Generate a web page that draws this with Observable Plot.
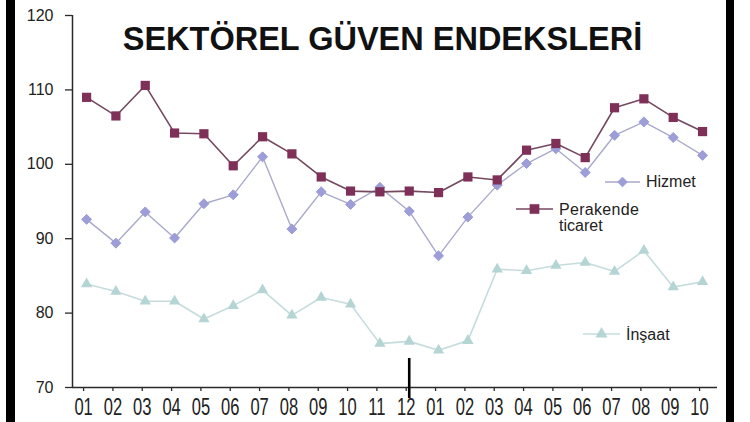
<!DOCTYPE html>
<html><head><meta charset="utf-8">
<script src="https://cdn.jsdelivr.net/npm/d3@7"></script>
<script src="https://cdn.jsdelivr.net/npm/@observablehq/plot@0.6"></script>
<style>
body{margin:0;background:#fff;}
#wrap{position:relative;width:750px;height:422px;overflow:hidden;background:#fff;font-family:"Liberation Sans",Arial,sans-serif;}
#wrap > svg{position:absolute;left:0;top:0;}
.bar{position:absolute;top:0;height:422px;background:#000;}
</style></head><body><div id="wrap"></div>
<script>
// ---- data ----
const months = ["01","02","03","04","05","06","07","08","09","10","11","12","01","02","03","04","05","06","07","08","09","10"];
const perakende = [109.0,106.5,110.6,104.2,104.1,99.8,103.7,101.4,98.3,96.4,96.3,96.4,96.2,98.3,97.9,101.9,102.8,100.9,107.6,108.8,106.3,104.4];
const hizmet = [92.6,89.4,93.6,90.1,94.7,95.9,101.0,91.3,96.3,94.6,96.9,93.7,87.7,92.9,97.2,100.1,102.1,98.9,103.9,105.7,103.6,101.2];
const insaat = [83.9,82.9,81.6,81.6,79.2,81.0,83.1,79.7,82.1,81.2,75.9,76.2,75.0,76.3,85.9,85.7,86.4,86.8,85.6,88.4,83.5,84.2];
const yTicks = [70,80,90,100,110,120];
const titleText = "SEKTÖREL GÜVEN ENDEKSLERİ";
const seriesNames = ["Hizmet","Perakende","ticaret","İnşaat"];
const yearBreakIndex = 11;

const colors = {
  perakendeLine:"#74485f", perakendeDot:"#7e3059",
  hizmetLine:"#a9a9cc", hizmetDot:"#9d9dd8",
  insaatLine:"#c6dcdc", insaatDot:"#b5d5d5"
};
const toRows = vals => vals.map((v,i)=>({i, v}));
const P = toRows(perakende), H = toRows(hizmet), I = toRows(insaat);
const xDomain = [-0.48, months.length - 0.49];

const plot = Plot.plot({
  width:750, height:422,
  marginLeft:72, marginRight:33, marginTop:15, marginBottom:35,
  style:{fontFamily:"'Liberation Sans', Arial, sans-serif", fontSize:"16px", color:"#222", background:"transparent", overflow:"visible"},
  x:{type:"linear", domain:xDomain},
  y:{domain:[70,120]},
  marks:[
    Plot.ruleY([yTicks[0]], {stroke:"#2a2a2a", strokeWidth:1.5}),
    Plot.ruleX([xDomain[0]], {stroke:"#2a2a2a", strokeWidth:1.5}),
    Plot.axisY({ticks:yTicks, tickSize:7, tickPadding:12, stroke:"#2a2a2a", strokeWidth:1.3, fontSize:16, label:null}),
    Plot.axisX({ticks:d3.range(months.length), tickFormat:i=>months[i], tickSize:4, tickPadding:7, dx:-3, stroke:"#2a2a2a", strokeWidth:1.3, fontSize:23, label:null}),
    Plot.line(I, {x:"i", y:"v", stroke:colors.insaatLine, strokeWidth:1.6}),
    Plot.dot(I, {x:"i", y:"v", symbol:"triangle", r:4.2, fill:colors.insaatDot, stroke:"none"}),
    Plot.line(H, {x:"i", y:"v", stroke:colors.hizmetLine, strokeWidth:1.4}),
    Plot.dot(H, {x:"i", y:"v", symbol:"diamond2", r:4.5, fill:colors.hizmetDot, stroke:colors.hizmetDot, strokeWidth:1, strokeLinejoin:"round"}),
    Plot.line(P, {x:"i", y:"v", stroke:colors.perakendeLine, strokeWidth:1.6}),
    Plot.dot(P, {x:"i", y:"v", symbol:"square", r:5.2, fill:colors.perakendeDot, stroke:"none"}),
    Plot.ruleX([yearBreakIndex], {y1:68.5, y2:73.9, stroke:"#000", strokeWidth:2.6, clip:false})
  ]
});
const wrap = document.getElementById("wrap");
wrap.appendChild(plot);
// horizontally condense the tall x tick labels
plot.querySelectorAll('[aria-label="x-axis tick label"] text').forEach(t=>{
  const w = t.getComputedTextLength();
  if (w > 0) {
    t.setAttribute("textLength", (w*0.72).toFixed(1));
    t.setAttribute("lengthAdjust", "spacingAndGlyphs");
  }
});

// overlay: title + legend
const ns = "http://www.w3.org/2000/svg";
const ov = document.createElementNS(ns,"svg");
ov.setAttribute("width",750); ov.setAttribute("height",422);
ov.style.pointerEvents = "none";
ov.style.fontFamily = "'Liberation Sans', Arial, sans-serif";
function el(tag, attrs, text){const e=document.createElementNS(ns,tag);for(const k in attrs)e.setAttribute(k,attrs[k]);if(text!=null)e.textContent=text;ov.appendChild(e);return e;}
el("text",{x:382.5,y:50,"text-anchor":"middle","font-size":32.5,"font-weight":"bold",fill:"#111"},titleText);
// legend swatches
const sym = (type, size) => d3.symbol(type, size)();
function swatch(x1,x2,y,lineColor,dotColor,symType,size){
  el("line",{x1,x2,y1:y,y2:y,stroke:lineColor,"stroke-width":1.5});
  el("path",{d:sym(symType,size),transform:`translate(${(x1+x2)/2},${y})`,fill:dotColor,stroke:dotColor,"stroke-width":0.5});
}
swatch(605,640,182,colors.hizmetLine,colors.hizmetDot,d3.symbolDiamond2,Math.PI*4.5*4.5);
el("text",{x:646,y:187,"font-size":16,fill:"#222"},seriesNames[0]);
swatch(516,553,209,colors.perakendeLine,colors.perakendeDot,d3.symbolSquare,Math.PI*5.2*5.2);
el("text",{x:559,y:215,"font-size":16,fill:"#222","letter-spacing":0.3},seriesNames[1]);
el("text",{x:559,y:231,"font-size":16,fill:"#222"},seriesNames[2]);
swatch(583,620,334,colors.insaatLine,colors.insaatDot,d3.symbolTriangle,Math.PI*4.2*4.2);
el("text",{x:626,y:340,"font-size":16,fill:"#222"},seriesNames[3]);
wrap.appendChild(ov);

// black side bars
[[6,9],[726,8]].forEach(([l,w])=>{const d=document.createElement("div");d.className="bar";d.style.left=l+"px";d.style.width=w+"px";wrap.appendChild(d);});
</script></body></html>
